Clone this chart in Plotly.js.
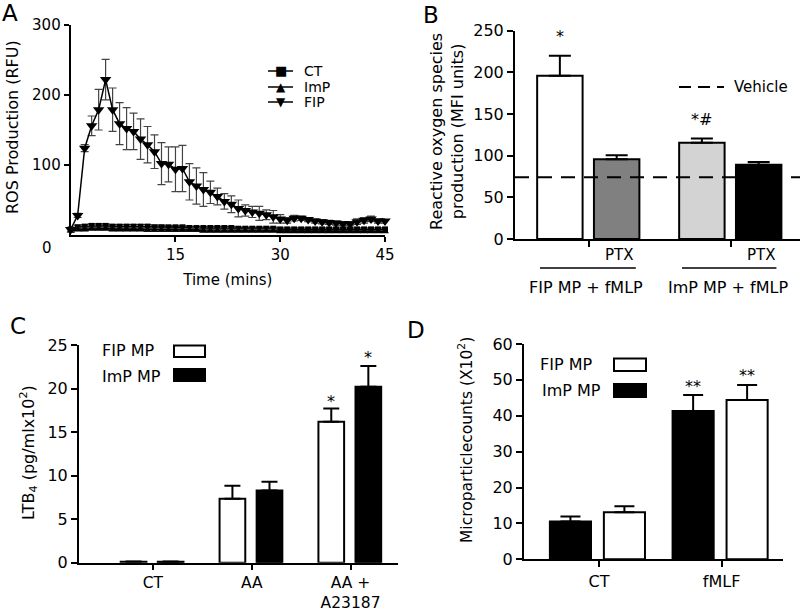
<!DOCTYPE html>
<html><head><meta charset="utf-8">
<script src="https://cdn.plot.ly/plotly-3.0.1.min.js"></script>
<style>html,body{margin:0;padding:0;background:#fff}</style>
</head><body><div id="chart" style="width:800px;height:611px"></div>
<script>
// ---------- Panel A: ROS kinetics ----------
const timeMin = [0,1,2,3,4,5,6,7,8,9,10,11,12,13,14,15,16,17,18,19,20,21,22,23,24,25,26,27,28,29,30,31,32,33,34,35,36,37,38,39,40,41,42,43,44,45];
const ctROS  = [8,11,12,13,13,13,12,12,12,12,12,12,11,11,11,11,11,10,10,10,10,10,10,10,9,9,9,9,9,9,8,8,8,8,8,8,8,8,8,8,8,8,8,8,8,8];
const ctErr  = [2,3,3,3,3,3,3,3,3,3,3,3,3,3,2,2,2,2,2,2,2,2,2,2,2,2,2,2,2,2,2,2,2,2,2,2,2,2,2,2,2,2,2,2,2,2];
const impROS = [6,8,8,9,9,9,8,8,8,8,8,7,7,7,7,7,7,7,7,6,6,6,6,6,6,6,6,6,6,6,5,5,5,5,5,5,5,5,5,5,5,5,5,5,5,5];
const impErr = [2,2,2,2,2,2,2,2,2,2,2,2,2,2,2,2,2,2,2,2,2,2,2,2,2,2,2,2,2,2,1,1,1,1,1,1,1,1,1,1,1,1,1,1,1,1];
const fipROS = [8,28,124,156,179,222,179,159,152,148,137,129,119,102,101,94,95,76,70,65,61,55,48,44,38,35,33,31,29,26,23,21,24,24,22,20,19,18,17,16,16,19,21,23,20,20];
const fipErr = [3,3,5,14,29,29,31,30,30,26,29,26,24,30,25,32,33,26,26,24,16,12,11,12,12,8,8,10,7,9,6,4,4,3,3,3,3,3,3,3,3,4,4,4,3,3];
const seriesNamesA = ['CT','ImP','FIP'];
const legendGlyphsA = ['■','▲','▼'];

// ---------- Panel B: ROS (MFI) ----------
const groupsB = ['FIP MP + fMLP','ImP MP + fMLP'];
const rosNoPTX = [196, 115.6];
const rosNoPTXErr = [24, 5];
const rosPTX = [95.6, 89];
const rosPTXErr = [5, 3.5];
const treatmentPTX = ['PTX','PTX'];
const starsNoPTX = ['*','*#'];
const starsPTX = ['',''];
const vehicleROS = 74;

// ---------- Panel C: LTB4 ----------
const catsC = ['CT','AA','AA +<br>A23187'];
const ltbFIP = [0.1, 7.35, 16.2];
const ltbFIPErr = [0.05, 1.5, 1.5];
const ltbImP = [0.1, 8.3, 20.2];
const ltbImPErr = [0.05, 1.0, 2.4];
const starsC_FIP = ['','','*'];
const starsC_ImP = ['','','*'];

// ---------- Panel D: microparticle counts ----------
const catsD = ['CT','fMLF'];
const mpImP = [10.5, 41.3];
const mpImPErr = [1.4, 4.5];
const mpFIP = [13.1, 44.4];
const mpFIPErr = [1.7, 4.2];
const starsD_ImP = ['','**'];
const starsD_FIP = ['','**'];
const legendNames = ['FIP MP','ImP MP'];

// ---------- helpers ----------
const W = 800, H = 611;
const PX = x => x / W;
const PY = y => 1 - y / H;
const FONT = 'DejaVu Sans, Arial, sans-serif';
const BLACK = '#000000';
function errUp(arr){ return {type:'data', symmetric:false, array:arr, arrayminus:arr.map(()=>0), color:BLACK, thickness:2, width:0}; }
function axis(extra){
  return Object.assign({showline:true, linewidth:2, linecolor:BLACK, showgrid:false, zeroline:false,
    ticks:'outside', ticklen:6, tickwidth:2, tickcolor:BLACK, fixedrange:true,
    tickfont:{size:15, family:FONT, color:BLACK}}, extra);
}

const traces = [];
// Panel A scatter
const symA = ['square','triangle-up','triangle-down'];
const yA = [ctROS, impROS, fipROS];
const eA = [ctErr, impErr, fipErr];
const sizeA = [6,7,10];
for (let i=0;i<3;i++){
  traces.push({type:'scatter', mode:'lines+markers', x:timeMin, y:yA[i], name:seriesNamesA[i],
    xaxis:'x', yaxis:'y', cliponaxis:false,
    line:{color:BLACK, width:1.5},
    marker:{symbol:symA[i], size:sizeA[i], color:BLACK},
    error_y:{type:'data', array:eA[i], color:'#444444', thickness:1.2, width:4},
    showlegend:false});
}

// Panel B bars
const wB = 0.32, offB = [-0.365, 0.035];
traces.push({type:'bar', x:groupsB, y:rosNoPTX, xaxis:'x2', yaxis:'y2', width:wB, offset:offB[0],
  marker:{color:['#ffffff','#d3d3d3'], line:{color:BLACK, width:2}},
  error_y:Object.assign(errUp(rosNoPTXErr), {width:11}), showlegend:false});
traces.push({type:'bar', x:groupsB, y:rosPTX, xaxis:'x2', yaxis:'y2', width:wB, offset:offB[1],
  marker:{color:['#808080','#000000'], line:{color:BLACK, width:2}},
  error_y:Object.assign(errUp(rosPTXErr), {width:11}), showlegend:false});

// Panel C bars
const wC = 0.26, offC = [-0.325, 0.05];
traces.push({type:'bar', x:catsC, y:ltbFIP, name:legendNames[0], xaxis:'x3', yaxis:'y3', width:wC, offset:offC[0],
  marker:{color:'#ffffff', line:{color:BLACK, width:2}}, error_y:Object.assign(errUp(ltbFIPErr), {width:8}), showlegend:false});
traces.push({type:'bar', x:catsC, y:ltbImP, name:legendNames[1], xaxis:'x3', yaxis:'y3', width:wC, offset:offC[1],
  marker:{color:'#000000', line:{color:BLACK, width:2}}, error_y:Object.assign(errUp(ltbImPErr), {width:8}), showlegend:false});

// Panel D bars
const wD = 0.335, offD = [-0.4, 0.04];
traces.push({type:'bar', x:catsD, y:mpImP, name:legendNames[1], xaxis:'x4', yaxis:'y4', width:wD, offset:offD[0],
  marker:{color:'#000000', line:{color:BLACK, width:2}}, error_y:Object.assign(errUp(mpImPErr), {width:10}), showlegend:false});
traces.push({type:'bar', x:catsD, y:mpFIP, name:legendNames[0], xaxis:'x4', yaxis:'y4', width:wD, offset:offD[1],
  marker:{color:'#ffffff', line:{color:BLACK, width:2}}, error_y:Object.assign(errUp(mpFIPErr), {width:10}), showlegend:false});

// ---------- annotations ----------
const ann = [];
function txt(text, x, y, opt){ ann.push(Object.assign({text:text, x:x, y:y, xref:'paper', yref:'paper', showarrow:false,
  xanchor:'center', yanchor:'middle', font:{family:FONT, size:15, color:BLACK}}, opt||{})); }
// panel letters
txt('A', PX(10), PY(13), {font:{family:FONT,size:23,color:BLACK}});
txt('B', PX(431), PY(15), {font:{family:FONT,size:23,color:BLACK}});
txt('C', PX(18), PY(326), {font:{family:FONT,size:23,color:BLACK}});
txt('D', PX(416), PY(330), {font:{family:FONT,size:23,color:BLACK}});
// A extras
txt('0', PX(47), PY(248), {font:{family:FONT,size:15,color:BLACK}});
txt('ROS Production (RFU)', PX(13), PY(127), {textangle:-90, font:{family:FONT,size:16,color:BLACK}});
// A legend (manual, to match compact spacing)
const legY = [71, 87, 102];
const glyphSize = [13, 12, 12];
const shapes = [];
for (let i=0;i<3;i++){
  shapes.push({type:'line', xref:'paper', yref:'paper', x0:PX(268), x1:PX(293), y0:PY(legY[i]), y1:PY(legY[i]), line:{color:BLACK, width:1.5}});
  txt(legendGlyphsA[i], PX(280.5), PY(legY[i]), {font:{family:FONT,size:glyphSize[i],color:BLACK}});
  txt(seriesNamesA[i], PX(302), PY(legY[i]), {xanchor:'left', font:{family:FONT,size:14,color:BLACK}});
}
// B extras
txt('Reactive oxygen species<br>production (MFI units)', PX(447), PY(132), {textangle:-90, font:{family:FONT,size:16,color:BLACK}});
txt('Vehicle', PX(732), PY(87), {xanchor:'left', font:{family:FONT,size:15,color:BLACK}});
for (let i=0;i<groupsB.length;i++){
  ann.push({text:treatmentPTX[i], x:i+offB[1]+wB/2, y:PY(255), xref:'x2', yref:'paper', showarrow:false, xshift:2,
    font:{family:FONT,size:15,color:BLACK}});
  ann.push({text:groupsB[i], x:i, y:PY(287), xref:'x2', yref:'paper', showarrow:false, xshift:-3,
    font:{family:FONT,size:16,color:BLACK}});
}
function stars(list, vals, errs, off, w, xr, yr, shift, size){
  list.forEach((s,i)=>{ if(!s) return;
    ann.push({text:s, x:i+off+w/2, y:vals[i]+errs[i], xref:xr, yref:yr, showarrow:false, yanchor:'bottom', yshift:shift,
      font:{family:FONT,size:size,color:BLACK}}); });
}
stars(starsNoPTX, rosNoPTX, rosNoPTXErr, offB[0], wB, 'x2', 'y2', 8, 16);
stars(starsPTX, rosPTX, rosPTXErr, offB[1], wB, 'x2', 'y2', 8, 16);
// C extras
txt('LTB<sub>4</sub> (pg/mlx10<sup>2</sup>)', PX(28), PY(453), {textangle:-90, font:{family:FONT,size:16,color:BLACK}});
txt(legendNames[0], PX(100), PY(350), {xanchor:'left', font:{family:FONT,size:16,color:BLACK}});
txt(legendNames[1], PX(100), PY(376), {xanchor:'left', font:{family:FONT,size:16,color:BLACK}});
stars(starsC_FIP, ltbFIP, ltbFIPErr, offC[0], wC, 'x3', 'y3', -4, 16);
stars(starsC_ImP, ltbImP, ltbImPErr, offC[1], wC, 'x3', 'y3', -3, 16);
// D extras
txt('Microparticlecounts (X10<sup>2</sup>)', PX(465), PY(440), {textangle:-90, font:{family:FONT,size:15.5,color:BLACK}});
txt(legendNames[0], PX(538), PY(364), {xanchor:'left', font:{family:FONT,size:16,color:BLACK}});
txt(legendNames[1], PX(540), PY(390), {xanchor:'left', font:{family:FONT,size:16,color:BLACK}});
stars(starsD_ImP, mpImP, mpImPErr, offD[0], wD, 'x4', 'y4', -3, 16);
stars(starsD_FIP, mpFIP, mpFIPErr, offD[1], wD, 'x4', 'y4', -2, 16);

// ---------- shapes ----------
shapes.push(
  // vehicle line across panel B
  {type:'line', xref:'x2 domain', yref:'y2', x0:0, x1:1, y0:vehicleROS, y1:vehicleROS, line:{color:BLACK, width:2, dash:'14px,9px'}},
  // vehicle legend key
  {type:'line', xref:'paper', yref:'paper', x0:PX(679), x1:PX(724), y0:PY(87), y1:PY(87), line:{color:BLACK, width:2, dash:'12px,7px'}},
  // group underlines in B
  {type:'line', xref:'x2', yref:'paper', x0:-0.345, x1:0.33, y0:PY(268), y1:PY(268), line:{color:BLACK, width:1.5}},
  {type:'line', xref:'x2', yref:'paper', x0:0.655, x1:1.32, y0:PY(268), y1:PY(268), line:{color:BLACK, width:1.5}},
  // legend boxes C
  {type:'rect', xref:'paper', yref:'paper', x0:PX(174), x1:PX(205), y0:PY(345.5), y1:PY(357), fillcolor:'#ffffff', line:{color:BLACK, width:2}},
  {type:'rect', xref:'paper', yref:'paper', x0:PX(174), x1:PX(205), y0:PY(369), y1:PY(381), fillcolor:'#000000', line:{color:BLACK, width:2}},
  // legend boxes D
  {type:'rect', xref:'paper', yref:'paper', x0:PX(614), x1:PX(646), y0:PY(358.5), y1:PY(371), fillcolor:'#ffffff', line:{color:BLACK, width:2}},
  {type:'rect', xref:'paper', yref:'paper', x0:PX(614), x1:PX(646), y0:PY(384), y1:PY(397), fillcolor:'#000000', line:{color:BLACK, width:2}}
);

const layout = {
  width:W, height:H, margin:{l:0,r:0,t:0,b:0},
  paper_bgcolor:'#ffffff', plot_bgcolor:'rgba(0,0,0,0)',
  font:{family:FONT, size:15, color:BLACK},
  barmode:'overlay',
  showlegend:false,
  xaxis: axis({domain:[PX(70.7), PX(385)], range:[0,45], anchor:'y', tickvals:[15,30,45], ticklen:5,
    title:{text:'Time (mins)', font:{family:FONT, size:15, color:BLACK}, standoff:11}}),
  yaxis: axis({domain:[PY(235), PY(25)], range:[0,300], anchor:'x', tickvals:[100,200,300], ticklen:5}),
  xaxis2: axis({domain:[PX(515), PX(800)], type:'category', range:[-0.521, 1.486], anchor:'y2', showticklabels:false}),
  yaxis2: axis({domain:[PY(239), PY(30.7)], range:[0,250], dtick:50, anchor:'x2', tickfont:{size:16, family:FONT, color:BLACK}}),
  xaxis3: axis({domain:[PX(79), PX(398)], type:'category', range:[-0.747, 2.48], anchor:'y3', ticklen:5, tickfont:{size:15.5, family:FONT, color:BLACK}}),
  yaxis3: axis({domain:[PY(562.7), PY(345)], range:[0,25], dtick:5, anchor:'x3', tickfont:{size:16, family:FONT, color:BLACK}}),
  xaxis4: axis({domain:[PX(524), PX(783)], type:'category', range:[-0.611, 1.5], anchor:'y4', tickfont:{size:16, family:FONT, color:BLACK}}),
  yaxis4: axis({domain:[PY(559.3), PY(344)], range:[0,60], dtick:10, anchor:'x4', tickfont:{size:16, family:FONT, color:BLACK}}),
  annotations: ann,
  shapes: shapes
};

Plotly.newPlot('chart', traces, layout, {displayModeBar:false, staticPlot:true});
</script></body></html>
